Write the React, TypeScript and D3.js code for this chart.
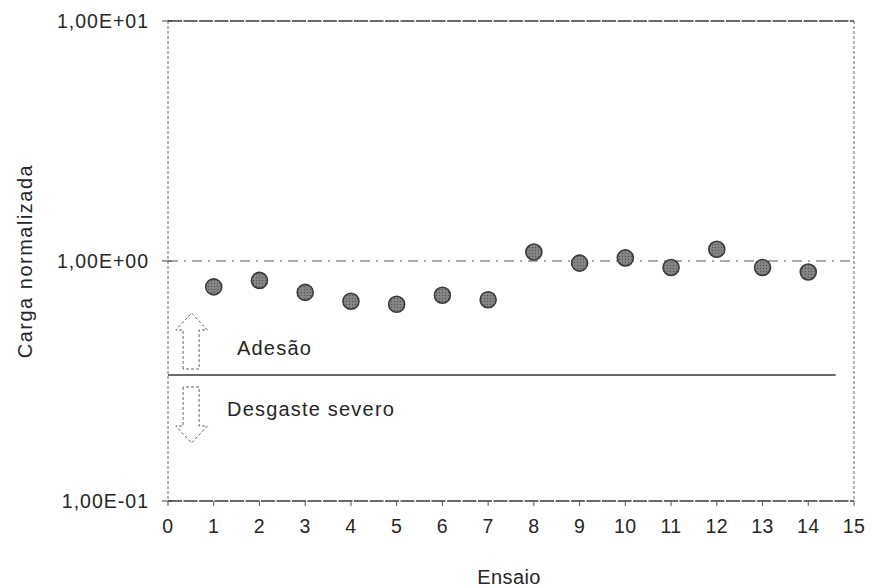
import React from "react";
import * as d3 from "d3";

const ensaios = [1, 2, 3, 4, 5, 6, 7, 8, 9, 10, 11, 12, 13, 14];
const carga = [0.78, 0.83, 0.74, 0.68, 0.66, 0.72, 0.69, 1.09, 0.98, 1.03, 0.94, 1.12, 0.94, 0.9];
const xTicks = [0, 1, 2, 3, 4, 5, 6, 7, 8, 9, 10, 11, 12, 13, 14, 15];
const yTicks = [0.1, 1, 10];
const yTickLabels = ["1,00E-01", "1,00E+00", "1,00E+01"];
const referenceLevel = 1;
const thresholdLevel = 0.335;

const W = 872;
const H = 588;
const left = 168;
const right = 854;
const top = 21;
const bottom = 501;

export default function App() {
  const x = d3.scaleLinear().domain([0, 15]).range([left, right]);
  const y = d3.scaleLog().domain([0.1, 10]).range([bottom, top]);
  const ink = "#3a3a3a";
  const txt = "#262626";
  const font = "'Liberation Sans', Arial, sans-serif";

  const ty = y(thresholdLevel);
  const ax0 = x(0.33);
  const ax1 = x(0.68);
  const hx0 = x(0.17);
  const hx1 = x(0.86);
  const axm = (hx0 + hx1) / 2;
  const upBase = ty - 6;
  const upHead = upBase - 39;
  const upTip = upBase - 56;
  const dnTop = ty + 12;
  const dnHead = dnTop + 39;
  const dnTip = dnTop + 56;
  const upPath = `M${ax0},${upBase} L${ax0},${upHead} L${hx0},${upHead} L${axm},${upTip} L${hx1},${upHead} L${ax1},${upHead} L${ax1},${upBase} Z`;
  const dnPath = `M${ax0},${dnTop} L${ax0},${dnHead} L${hx0},${dnHead} L${axm},${dnTip} L${hx1},${dnHead} L${ax1},${dnHead} L${ax1},${dnTop} Z`;

  return (
    <svg
      width={W}
      height={H}
      style={{ position: "absolute", left: 0, top: 0, background: "#fff" }}
      fontFamily={font}
    >
      <defs>
        <pattern id="dots" width="3" height="3" patternUnits="userSpaceOnUse">
          <rect width="3" height="3" fill="#868686" />
          <circle cx="1.5" cy="1.5" r="0.7" fill="#555" />
        </pattern>
      </defs>
      <rect width={W} height={H} fill="#fff" />

      {/* frame */}
      <line x1={left} x2={right} y1={top} y2={top} stroke={ink} strokeWidth={1.4} strokeDasharray="14 1.5" />
      <line x1={left} x2={right} y1={bottom} y2={bottom} stroke={ink} strokeWidth={1.4} strokeDasharray="14 1.5" />
      <line x1={left} x2={left} y1={top} y2={bottom} stroke="#666" strokeWidth={1} strokeDasharray="3 2" />
      <line x1={right} x2={right} y1={top} y2={bottom} stroke="#666" strokeWidth={1} strokeDasharray="3 2" />

      {/* y ticks */}
      {yTicks.map((t, i) => (
        <g key={t}>
          <line x1={left - 6} x2={left + 4} y1={y(t)} y2={y(t)} stroke={ink} strokeWidth={1} />
          <text
            x={149}
            y={y(t)}
            dy="0.35em"
            textAnchor="end"
            fontSize={19.5}
            letterSpacing={1}
            fill={txt}
          >
            {yTickLabels[i]}
          </text>
        </g>
      ))}

      {/* x ticks */}
      {xTicks.map((t) => (
        <g key={t}>
          <line x1={x(t)} x2={x(t)} y1={bottom} y2={bottom + 5} stroke="#555" strokeWidth={1} />
          <text x={x(t)} y={526} dy="0.35em" textAnchor="middle" fontSize={19.5} letterSpacing={0.5} fill={txt}>
            {t}
          </text>
        </g>
      ))}

      {/* reference dashed line at 1 */}
      <line
        x1={x(0)}
        x2={x(15)}
        y1={y(referenceLevel)}
        y2={y(referenceLevel)}
        stroke="#555"
        strokeWidth={1}
        strokeDasharray="10 6 2 6"
      />

      {/* threshold line */}
      <line x1={x(0)} x2={x(14.6)} y1={ty} y2={ty} stroke={ink} strokeWidth={1.3} />

      {/* arrows */}
      <path d={upPath} fill="none" stroke="#666" strokeWidth={1} strokeDasharray="3 2" />
      <path d={dnPath} fill="none" stroke="#666" strokeWidth={1} strokeDasharray="3 2" />

      <text x={237} y={348} dy="0.35em" fontSize={20} letterSpacing={1.2} fill={txt}>
        Adesão
      </text>
      <text x={227} y={409} dy="0.35em" fontSize={20} letterSpacing={1.2} fill={txt}>
        Desgaste severo
      </text>

      {/* points */}
      {ensaios.map((e, i) => (
        <circle
          key={e}
          cx={x(e)}
          cy={y(carga[i])}
          r={8}
          fill="url(#dots)"
          stroke="#3a3a3a"
          strokeWidth={1.6}
        />
      ))}

      {/* axis titles */}
      <text x={509} y={577} dy="0.35em" textAnchor="middle" fontSize={20} letterSpacing={0.4} fill={txt}>
        Ensaio
      </text>
      <text
        transform={`translate(25, ${y(1)}) rotate(-90)`}
        dy="0.35em"
        textAnchor="middle"
        fontSize={20}
        letterSpacing={1.5}
        fill={txt}
      >
        Carga normalizada
      </text>
    </svg>
  );
}
